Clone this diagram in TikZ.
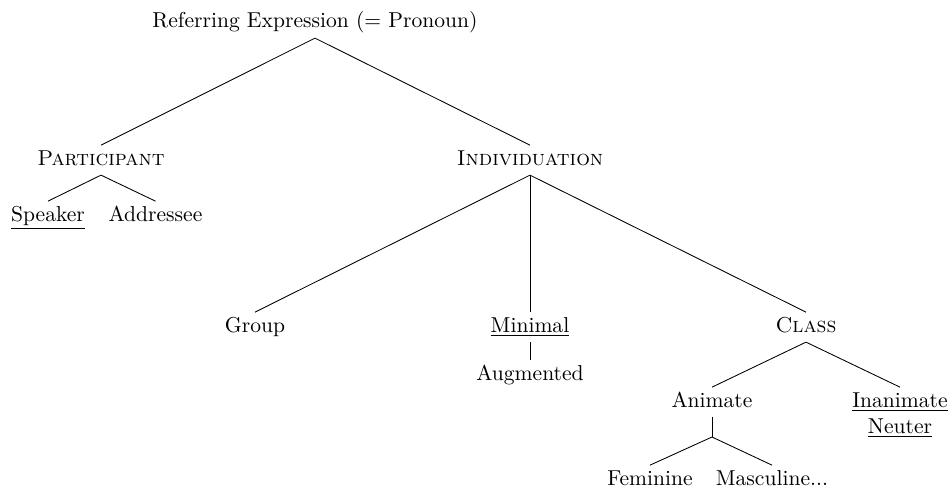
\documentclass[tikz,border=0pt]{standalone}
\usepackage{tikz}
\usepackage{amsmath}
\usetikzlibrary{calc}
\tikzstyle{tn}=[inner sep=1pt,text height=8pt,text depth=3.5pt,anchor=base]
\tikzstyle{br}=[line width=0.4pt]

\begin{document}
\begin{tikzpicture}[x=0.4636pt,y=-0.4636pt]
        \useasboundingbox (0,0) rectangle (949,489);
        \node[style=tn] (0) at (315, 28) {Referring Expression (= Pronoun)};
		\node[style=tn] (1) at (101, 165) {\textsc{Participant}};
		\node[style=tn] (2) at (530, 165) {\textsc{Individuation}};
		\node[style=tn] (3) at (48, 221) {\underline{Speaker}};
		\node[style=tn] (4) at (155.5, 221) {Addressee};
		\node[style=tn] (5) at (255, 332) {Group};
		\node[style=tn] (6) at (530, 332) {\underline{Minimal}};
		\node[style=tn] (7) at (530, 380) {Augmented};
		\node[style=tn] (8) at (806, 332) {\textsc{Class}};
		\node[style=tn] (9) at (712, 407) {Animate};
		\node[style=tn] (10) at (900, 407) {\underline{Inanimate}};
		\node[style=tn] (11) at (900, 433) {\underline{Neuter}};
		\node[style=tn] (12) at (650, 485) {Feminine};
		\node[style=tn] (13) at (772, 485) {Masculine...};
        \coordinate (sp) at (712, 437);
        \draw[style=br] (0.south) to (1.north);
		\draw[style=br] (0.south) to (2.north);
		\draw[style=br] (1.south) to (3.north);
		\draw[style=br] (1.south) to (4.north);
		\draw[style=br] (2.south) to (5.north);
		\draw[style=br] (2.south) to (6.north);
		\draw[style=br] (2.south) to (8.north);
		\draw[style=br] (6.south) to (7.north);
		\draw[style=br] (8.south) to (9.north);
		\draw[style=br] (8.south) to (10.north);
		\draw[style=br] (9.south) to (sp);
		\draw[style=br] (sp) to (12.north);
		\draw[style=br] (sp) to (13.north);
    \end{tikzpicture}
\end{document}
